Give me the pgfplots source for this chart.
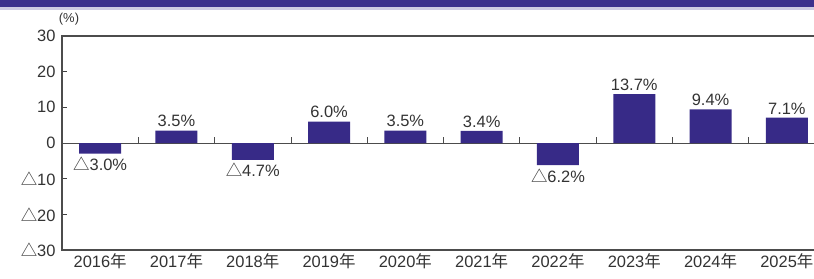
\documentclass[border=0pt]{standalone}
\usepackage{pgfplots}
\pgfplotsset{compat=1.18}
\usepackage{fontspec}
\setmainfont{Liberation Sans}
\newfontfamily\cjk{Noto Sans CJK JP}
\definecolor{barc}{RGB}{55,42,135}
\definecolor{band}{RGB}{60,48,140}
\begin{document}
\begin{tikzpicture}[x=1bp,y=1bp]
\useasboundingbox (0,0) rectangle (814,278);
\clip (0,0) rectangle (814,278);
\fill[band] (0,271) rectangle (814,278);
\fill[band!25] (0,268) rectangle (814,271);
\begin{axis}[
 at={(62bp,28bp)}, anchor=south west,
 scale only axis, width=763bp, height=214bp,
 xmin=-0.5, xmax=9.5, ymin=-30, ymax=30,
 ytick={-30,-20,-10,0,10,20,30},
 yticklabels={{\cjk △}30,{\cjk △}20,{\cjk △}10,0,10,20,30},
 xtick={0,1,2,3,4,5,6,7,8,9},
 xticklabels={2016{\cjk 年},2017{\cjk 年},2018{\cjk 年},2019{\cjk 年},2020{\cjk 年},2021{\cjk 年},2022{\cjk 年},2023{\cjk 年},2024{\cjk 年},2025{\cjk 年}},
 x tick style={draw=none},
 tick align=inside, major tick length=5bp,
 y tick style={black!75, line width=0.8bp},
 axis line style={black!70, line width=1.3bp},
 ticklabel style={font=\fontsize{16.5}{18}\selectfont, text=black!80},
 yticklabel style={xshift=-3bp},
 /pgf/number format/assume math mode=true,
 nodes near coords style={font=\fontsize{16.5}{18}\selectfont, text=black!80},
]
\draw[black!70, line width=0.9bp] (axis cs:-0.5,0) -- (axis cs:9.5,0);
\pgfplotsinvokeforeach{0.5,1.5,2.5,3.5,4.5,5.5,6.5,7.5,8.5}{
  \draw[black!70, line width=0.8bp] ([yshift=-1bp]axis cs:#1,0) -- ([yshift=6bp]axis cs:#1,0);
}
\addplot[ybar, bar width=42bp, fill=barc, draw=none,
  nodes near coords={\pgfmathprintnumber[fixed,fixed zerofill,precision=1]{\pgfplotspointmeta}\%}]
  coordinates {(1,3.5)(3,6.0)(4,3.5)(5,3.4)(7,13.7)(8,9.4)(9,7.1)};
\addplot[ybar, bar width=42bp, fill=barc, draw=none,
  point meta=explicit symbolic,
  nodes near coords={{\cjk △}\pgfplotspointmeta\%},
  every node near coord/.append style={anchor=north}]
  coordinates {(0,-3.0) [3.0] (2,-4.7) [4.7] (6,-6.2) [6.2]};
\end{axis}
\node[font=\fontsize{13}{15}\selectfont, text=black!80] at (69,259) {(\%)};
\end{tikzpicture}
\end{document}
